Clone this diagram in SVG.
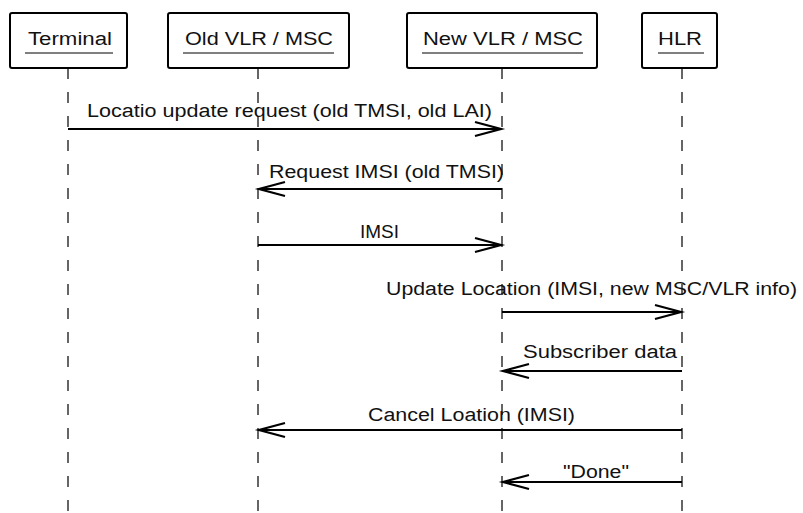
<svg xmlns="http://www.w3.org/2000/svg" width="803" height="513" viewBox="0 0 803 513">
<style>
  .box { fill: #fff; stroke: #000; stroke-width: 2; }
  .life { stroke: #333; stroke-width: 1.5; stroke-dasharray: 11 13; fill: none; }
  .msg { stroke: #000; stroke-width: 2; fill: none; marker-end: url(#open); }
  .t { font-family: "Liberation Sans", Arial, sans-serif; font-size: 18px; fill: #111; }
  .ul { stroke: #000; stroke-width: 1.2; }
</style>
<defs>
  <marker id="open" markerUnits="userSpaceOnUse" markerWidth="30" markerHeight="18" refX="27" refY="8" orient="auto" overflow="visible">
    <path d="M1,1 L27,8 L1,15" fill="none" stroke="#000" stroke-width="2.2"/>
  </marker>
</defs>
<rect width="803" height="513" fill="#fff"/>
<g id="lifelines">
  <line class="life" x1="68" y1="68" x2="68" y2="513"/>
  <line class="life" x1="258" y1="68" x2="258" y2="513"/>
  <line class="life" x1="502" y1="68" x2="502" y2="513"/>
  <line class="life" x1="682" y1="68" x2="682" y2="513"/>
</g>
<g id="terminal">
  <rect class="box" x="10" y="13" width="117" height="55" rx="2"/>
  <text class="t" x="28" y="45" textLength="84" lengthAdjust="spacingAndGlyphs">Terminal</text>
  <line class="ul" x1="25" y1="53" x2="113" y2="53"/>
</g>
<g id="oldvlr">
  <rect class="box" x="168" y="13" width="181" height="55" rx="2"/>
  <text class="t" x="185" y="45" textLength="148" lengthAdjust="spacingAndGlyphs">Old VLR / MSC</text>
  <line class="ul" x1="183" y1="53" x2="334" y2="53"/>
</g>
<g id="newvlr">
  <rect class="box" x="407" y="13" width="190" height="55" rx="2"/>
  <text class="t" x="423" y="45" textLength="160" lengthAdjust="spacingAndGlyphs">New VLR / MSC</text>
  <line class="ul" x1="422" y1="53" x2="583" y2="53"/>
</g>
<g id="hlr">
  <rect class="box" x="642" y="13" width="75" height="55" rx="2"/>
  <text class="t" x="658" y="45" textLength="44" lengthAdjust="spacingAndGlyphs">HLR</text>
  <line class="ul" x1="658" y1="53" x2="704" y2="53"/>
</g>
<g id="connectors">
  <line class="msg" x1="68" y1="129" x2="501" y2="129"/>
  <text class="t" x="87" y="117" textLength="405" lengthAdjust="spacingAndGlyphs">Locatio update request (old TMSI, old LAI)</text>
  <line class="msg" x1="502" y1="189" x2="259" y2="189"/>
  <text class="t" x="269" y="178" textLength="235" lengthAdjust="spacingAndGlyphs">Request IMSI (old TMSI)</text>
  <line class="msg" x1="258" y1="245" x2="501" y2="245"/>
  <text class="t" x="360" y="238" textLength="39" lengthAdjust="spacingAndGlyphs">IMSI</text>
  <line class="msg" x1="502" y1="312" x2="681" y2="312"/>
  <text class="t" x="386" y="295" textLength="411" lengthAdjust="spacingAndGlyphs">Update Location (IMSI, new MSC/VLR info)</text>
  <line class="msg" x1="682" y1="371" x2="503" y2="371"/>
  <text class="t" x="523" y="358" textLength="154" lengthAdjust="spacingAndGlyphs">Subscriber data</text>
  <line class="msg" x1="682" y1="430" x2="259" y2="430"/>
  <text class="t" x="368" y="421" textLength="207" lengthAdjust="spacingAndGlyphs">Cancel Loation (IMSI)</text>
  <line class="msg" x1="682" y1="482" x2="503" y2="482"/>
  <text class="t" x="563" y="478" textLength="66" lengthAdjust="spacingAndGlyphs">"Done"</text>
</g>
</svg>
